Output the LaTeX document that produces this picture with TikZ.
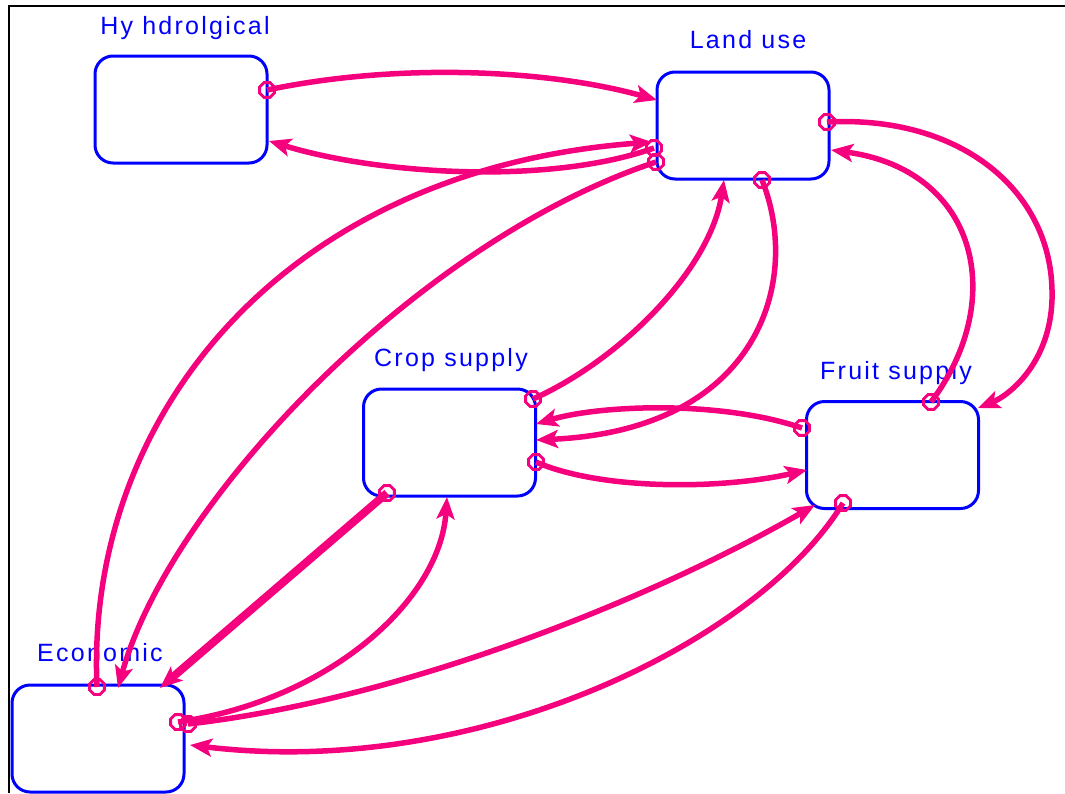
\documentclass[tikz,border=0pt]{standalone}
\usepackage{fontspec}
\setmainfont{Liberation Sans}
\usetikzlibrary{arrows.meta,shapes.geometric}
\definecolor{linkpink}{RGB}{245,0,125}
\definecolor{boxblue}{RGB}{0,0,255}
\tikzset{
  sector/.style={draw=boxblue, line width=3pt, rounded corners=18pt,
    minimum width=172pt, minimum height=107pt, inner sep=0pt},
  title/.style={text=boxblue, anchor=base, inner sep=0pt,
    font=\fontsize{25}{29}\selectfont\addfontfeatures{LetterSpace=9}},
  port/.style={draw=linkpink, line width=2.8pt, regular polygon, regular polygon sides=8,
    minimum size=16pt, inner sep=0pt},
  link/.style={draw=linkpink, line width=5.5pt,
    -{Stealth[length=22pt, width=18pt, inset=5pt]}},
}
\begin{document}
\begin{tikzpicture}[x=1pt, y=-1pt]
\useasboundingbox (0,0) rectangle (1065,793);
% frame
\draw[line width=2.5pt] (9,793) coordinate (fb) -- (9,6) coordinate (fc) -- (1065,6) coordinate (fr);

% sectors
\node[sector] (hyd)   at (181,109.5) {};
\node[sector] (land)  at (743,125.5) {};
\node[sector] (crop)  at (449.5,442.5) {};
\node[sector] (fruit) at (892.5,455) {};
\node[sector] (econ)  at (98,738.5) {};

% titles
\node[title] (thyd)   at (185,34)    {Hy hdrolgical};
\node[title] (tland)  at (748,48.5)  {Land use};
\node[title] (tcrop)  at (451,366)   {Crop supply};
\node[title] (tfruit) at (896,379.5) {Fruit supply};
\node[title] (tecon)  at (100,661.5) {Economic};

% link sources (ports)
\coordinate (hydA)   at (267,90);
\coordinate (landA)  at (654,148);
\coordinate (landB)  at (656,162);
\coordinate (landC)  at (827,122);
\coordinate (landD)  at (762,180);
\coordinate (cropA)  at (533,399);
\coordinate (cropB)  at (536,462);
\coordinate (cropC)  at (387,493);
\coordinate (fruitA) at (931,402);
\coordinate (fruitB) at (802,428);
\coordinate (fruitC) at (843,503);
\coordinate (econA)  at (97,687);
\coordinate (econB)  at (178,722);
\coordinate (econC)  at (188,724);

% link targets on the sector borders
\coordinate (hydIn)    at (269,141);
\coordinate (landIn1)  at (657,100);
\coordinate (landIn2)  at (652,142);
\coordinate (landIn3)  at (724,180);
\coordinate (landIn4)  at (831,150);
\coordinate (cropIn1)  at (536,424);
\coordinate (cropIn2)  at (536,440);
\coordinate (cropIn3)  at (447,497);
\coordinate (fruitIn1) at (978,408);
\coordinate (fruitIn2) at (807,470);
\coordinate (fruitIn3) at (815,505);
\coordinate (econIn1)  at (118,688);
\coordinate (econIn2)  at (160,688);
\coordinate (econIn3)  at (190,745);

% links
\draw[link] (hydA) .. controls (400,62) and (550,70) .. (landIn1);
\draw[link] (landA) .. controls (550,185) and (380,175) .. (hydIn);
\draw[link] (econA) .. controls (85,420) and (280,170) .. (landIn2);
\draw[link] (landB) .. controls (420,240) and (170,500) .. (econIn1);
\draw[link] (landC) .. controls (960,115) and (1050,190) .. (1052,290)
                    .. controls (1054,360) and (1010,395) .. (fruitIn1);
\draw[link] (fruitA) .. controls (1008,300) and (978,170) .. (landIn4);
\draw[link] (cropA) .. controls (620,360) and (710,270) .. (landIn3);
\draw[link] (landD) .. controls (802,280) and (760,430) .. (cropIn2);
\draw[link] (fruitB) .. controls (720,400) and (600,405) .. (cropIn1);
\draw[link] (cropB) .. controls (600,490) and (720,490) .. (fruitIn2);
\draw[link, line width=8pt] (cropC) -- (econIn2);
\draw[link] (econB) .. controls (330,700) and (440,600) .. (cropIn3);
\draw[link] (econC) .. controls (400,700) and (650,600) .. (fruitIn3);
\draw[link] (fruitC) .. controls (760,640) and (480,780) .. (econIn3);

% port markers
\foreach \p in {hydA,landA,landB,landC,landD,cropA,cropB,cropC,fruitA,fruitB,fruitC,econA,econB,econC}
  \node[port] (m-\p) at (\p) {};
\end{tikzpicture}
\end{document}
